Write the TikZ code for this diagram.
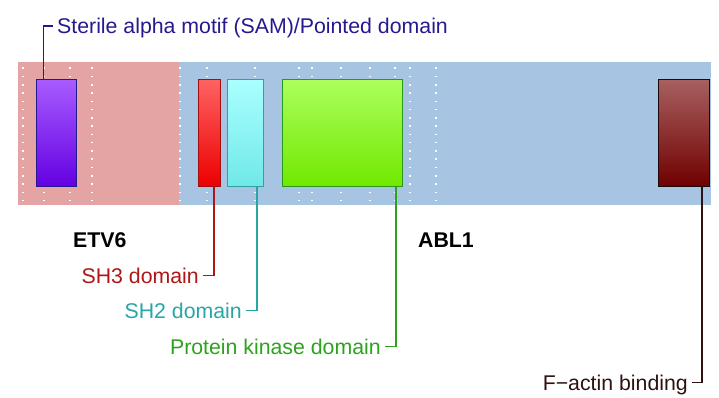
\documentclass[tikz,border=0pt]{standalone}
\usepackage{fontspec}
\setmainfont{Liberation Sans}
\definecolor{pinkbg}{HTML}{E4A4A4}
\definecolor{bluebg}{HTML}{A8C4E3}
\definecolor{samc}{HTML}{26188E}
\definecolor{samtop}{HTML}{A85CFF}
\definecolor{sambot}{HTML}{6400E2}
\definecolor{shthree}{HTML}{B01616}
\definecolor{shthreeb}{HTML}{A01010}
\definecolor{shthreetop}{HTML}{FF6262}
\definecolor{shthreebot}{HTML}{EC0000}
\definecolor{shtwo}{HTML}{28A6A6}
\definecolor{shtwob}{HTML}{30A0A0}
\definecolor{shtwotop}{HTML}{AAFFFF}
\definecolor{shtwobot}{HTML}{70E8E8}
\definecolor{pkc}{HTML}{2CA31C}
\definecolor{pkb}{HTML}{2A9A1A}
\definecolor{pktop}{HTML}{ACFF5C}
\definecolor{pkbot}{HTML}{70E800}
\definecolor{fac}{HTML}{2E1212}
\definecolor{fab}{HTML}{1E0A0A}
\definecolor{fatop}{HTML}{A86060}
\definecolor{fabot}{HTML}{700000}
\begin{document}
\begin{tikzpicture}[x=1pt,y=-1pt,
  dom/.style={anchor=north west, line width=1.8pt, minimum height=107pt, inner sep=0pt, outer sep=0pt},
  lab/.style={font=\fontsize{21.3}{24}\selectfont, inner xsep=4pt, inner ysep=0pt, text height=15pt, text depth=0pt},
  gene/.style={font=\fontsize{21.3}{24}\selectfont\bfseries, inner sep=0pt, text height=15pt, text depth=0pt},
  conn/.style={line width=1.8pt},
  grid/.style={white, line width=1.5pt, dash pattern=on 1.5pt off 6.77pt}
]
\useasboundingbox (0,0) rectangle (719,398);
% background bands
\fill[pinkbg] (18,62) rectangle (179,205);
\fill[bluebg] (179,62) rectangle (711,205);
% dotted grid lines
\foreach \gx in {23,44,70,92,180,207,255,299,312,341,370,395,410,436}
  \draw[grid] (\gx,67.5) -- (\gx,202);
% domains
\node[dom, minimum width=40pt, draw=samc, top color=samtop, bottom color=sambot] (sam) at (36.5,79.5) {};
\node[dom, minimum width=22pt, draw=shthreeb, top color=shthreetop, bottom color=shthreebot] (sh3box) at (198.5,79.5) {};
\node[dom, minimum width=36pt, draw=shtwob, top color=shtwotop, bottom color=shtwobot] (sh2box) at (227.5,79.5) {};
\node[dom, minimum width=120pt, draw=pkb, top color=pktop, bottom color=pkbot] (pkbox) at (282.5,79.5) {};
\node[dom, minimum width=51pt, draw=fab, top color=fatop, bottom color=fabot] (fabox) at (658.5,79.5) {};
% connector start points
\coordinate (csam) at (43.5,79.5);
\coordinate (csh3) at (214,186.5);
\coordinate (csh2) at (256.7,186.5);
\coordinate (cpk) at (395.7,186.5);
\coordinate (cfa) at (702,186.5);
% labels
\node[lab, text=samc, anchor=west] (samlab) at (53,26) {Sterile alpha motif (SAM)/Pointed domain};
\node[lab, text=shthree, anchor=east] (sh3lab) at (203,275.5) {SH3 domain};
\node[lab, text=shtwo, anchor=east] (sh2lab) at (246,310.5) {SH2 domain};
\node[lab, text=pkc, anchor=east] (pklab) at (385,346.5) {Protein kinase domain};
\node[lab, text=fac, anchor=east] (falab) at (692,382.5) {F−actin binding};
\node[gene, anchor=west] (etv) at (73,240) {ETV6};
\node[gene, anchor=west] (abl) at (418,240) {ABL1};
% connectors
\draw[conn, samc] (csam) |- (samlab.west);
\draw[conn, shthree] (csh3) |- (sh3lab.east);
\draw[conn, shtwo] (csh2) |- (sh2lab.east);
\draw[conn, pkc] (cpk) |- (pklab.east);
\draw[conn, fac] (cfa) |- (falab.east);
\end{tikzpicture}
\end{document}
